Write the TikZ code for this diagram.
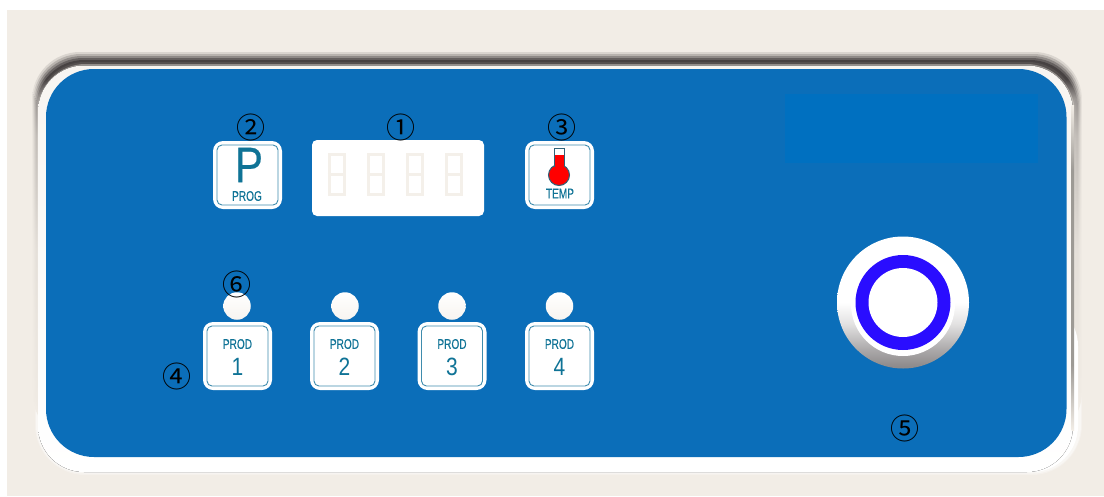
\documentclass[tikz,border=0pt]{standalone}
\usepackage{fontspec}
\setmainfont{Liberation Sans}
\newfontfamily\nf[FakeStretch=0.72,FakeBold=0.3]{Liberation Sans}
\newfontfamily\nw[FakeStretch=0.84]{Liberation Sans}
\newfontfamily\np[FakeStretch=0.84,FakeBold=0.4]{Liberation Sans}
\newfontfamily\cjkf{Noto Sans CJK SC}
\definecolor{beige}{HTML}{F2EDE6}
\definecolor{panelblue}{HTML}{0B6EB9}
\definecolor{patchblue}{HTML}{0070C0}
\definecolor{teal}{HTML}{0F7396}
\definecolor{frameline}{HTML}{3F8CAD}
\definecolor{ringblue}{HTML}{2A0DFF}
\definecolor{darkband}{HTML}{474242}
\definecolor{knobgrey}{HTML}{8E8B8C}
\pgfdeclareverticalshading[cA]{layershade}{100bp}{color(0bp)=(beige);color(25bp)=(beige);color(50bp)=(cA!8!beige);color(65bp)=(cA!28!beige);color(70bp)=(cA!50!beige);color(72.5bp)=(cA);color(100bp)=(cA)}
\pgfdeclareverticalshading{knobshade}{100bp}{color(0bp)=(knobgrey);color(26bp)=(knobgrey);color(32bp)=(knobgrey!75!white);color(42bp)=(knobgrey!25!white);color(50bp)=(white);color(100bp)=(white)}
\pgfdeclareverticalshading{lineshade}{100bp}{color(0bp)=(beige);color(25bp)=(beige);color(35bp)=(black!35!beige);color(65bp)=(black!35!beige);color(75bp)=(beige);color(100bp)=(beige)}
\tikzset{
  outerkey/.style={draw=none,fill=white,rounded corners=10pt},
  innerkey/.style={draw=frameline,line width=0.9pt,fill=white,rounded corners=5pt},
  keytext/.style={text=teal,inner sep=0pt,font=\nf\fontsize{14}{14}\selectfont},
  numtext/.style={text=teal,inner sep=0pt,font=\nw\fontsize{25}{25}\selectfont},
  mark label/.style={text=black,inner sep=0pt,font=\cjkf\fontsize{29}{29}\selectfont},
  led/.style={circle,draw=none,inner sep=0pt,minimum size=27.5pt,top color=white,middle color=white,bottom color=beige!60!white},
  seg/.style={draw=beige!85!white,line width=2.8pt,fill=none}
}
\begin{document}
\begin{tikzpicture}[x=1pt,y=-1pt]
\useasboundingbox (0,0) rectangle (1104,496);
\fill[white] (0,0) rectangle (1104,496);
\fill[beige] (7,10) rectangle (1104,496);
% frame: nested soft layers
\fill[beige!75!white,rounded corners=50pt] (35,80) rectangle (1082,475);
\fill[beige!45!white,rounded corners=48pt] (36,80) rectangle (1081,473.5);
\foreach \k/\l/\t/\r/\m in {0/32/52/1082/14,1/33/54/1081/34,2/34/56/1080/58,3/35/58/1079/82,4/36/60/1078/100,5/37/62/1076/92,6/37.5/64/1074.5/55} {
  \colorlet{cA}{darkband!\m!beige}
  \path[shading=layershade,rounded corners=48pt] (\l,\t) rectangle (\r,440);
}
\fill[white,rounded corners=46pt] (40,300) rectangle (1078,472);
\fill[top color=beige!55!white,middle color=beige,bottom color=white,rounded corners=46pt] (38,65.5) rectangle (1073,472);
\path[shading=lineshade] (1071.5,105) rectangle (1074,430);
\fill[panelblue,rounded corners=48pt] (46,69) rectangle (1066.5,457);
\fill[patchblue] (785,94) rectangle (1038,163);
% program key
\node[outerkey,minimum width=69pt,minimum height=68pt,inner sep=0pt] (kp) at (247.5,175) {};
\node[innerkey,minimum width=61pt,minimum height=60pt,inner sep=0pt] (kpi) at (247.5,175) {};
\node[text=teal,inner sep=0pt,font=\np\fontsize{50}{50}\selectfont] (pl) at (249,165) {P};
\node[keytext] (pt) at (247,196) {PROG};
% display
\node[fill=white,rounded corners=5pt,minimum width=172pt,minimum height=76pt,inner sep=0pt] (disp) at (398,178) {};
\foreach \n/\x in {a/337,b/376,c/415,d/454} {
  \node[seg,minimum width=15.5pt,minimum height=40.5pt,inner sep=0pt] (dig\n) at (\x,174.5) {};
  \draw[seg] (dig\n.west) -- (dig\n.east);
}
% temp key
\node[outerkey,minimum width=69pt,minimum height=68pt,inner sep=0pt] (kt) at (559.5,175) {};
\node[innerkey,minimum width=61pt,minimum height=60pt,inner sep=0pt] (kti) at (559.5,175) {};
\draw[frameline!70!black,line width=1pt,fill=red] (559,175) circle[radius=10.5];
\draw[frameline!70!black,line width=0.9pt,fill=white] (554,148) rectangle (564,166);
\fill[red] (554.5,155) rectangle (563.5,170);
\node[keytext] (tt) at (560,193.5) {TEMP};
% LEDs and product keys
\foreach \n/\lx/\kx in {1/237/237.5,2/345/344.5,3/452/452,4/559.5/559.5} {
  \node[led] (led\n) at (\lx,306) {};
  \node[outerkey,minimum width=69pt,minimum height=68pt,inner sep=0pt] (prod\n) at (\kx,356) {};
  \node[innerkey,minimum width=61pt,minimum height=60pt,inner sep=0pt] (prodi\n) at (\kx,356) {};
  \node[keytext] (pr\n) at (\kx,344) {PROD};
  \node[numtext] (nu\n) at (\kx,367) {\n};
}
% knob
\node[circle,draw=none,minimum size=132pt,inner sep=0pt,shading=knobshade] (knob) at (903,302.5) {};
\node[circle,fill=white,minimum size=104pt,inner sep=0pt] (halo) at (903,304) {};
\node[circle,fill=ringblue,minimum size=95pt,inner sep=0pt] (ring) at (903,302.5) {};
\node[circle,fill=white,minimum size=69pt,inner sep=0pt] (cap) at (903,302.5) {};
% callouts
\node[mark label] (m1) at (401,127) {①};
\node[mark label] (m2) at (251,127) {②};
\node[mark label] (m3) at (562,127) {③};
\node[mark label] (m4) at (177,376) {④};
\node[mark label] (m5) at (905,428) {⑤};
\node[mark label] (m6) at (237,284) {⑥};
\end{tikzpicture}
\end{document}
